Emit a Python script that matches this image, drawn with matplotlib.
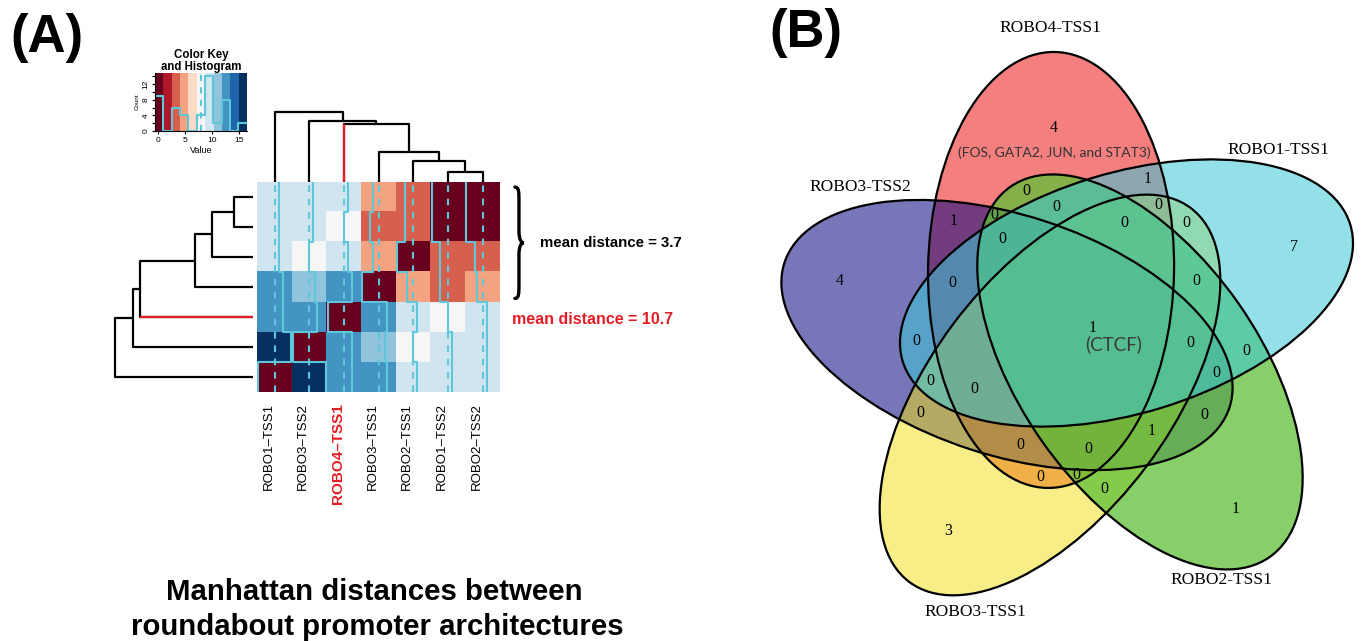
import numpy as np
import matplotlib
matplotlib.use("Agg")
import matplotlib.pyplot as plt
import matplotlib.transforms as mtransforms
from matplotlib.colors import ListedColormap, BoundaryNorm
from matplotlib.patches import Ellipse, PathPatch
from matplotlib.path import Path

W, H = 1362, 641

# ---------------- datos panel A ----------------
promotores = ["ROBO1-TSS1", "ROBO3-TSS2", "ROBO4-TSS1", "ROBO3-TSS1",
              "ROBO2-TSS1", "ROBO1-TSS2", "ROBO2-TSS2"]
distancias = np.array([
    [0, 16, 12, 12, 10, 10, 10],
    [16, 0, 12, 11, 8, 10, 10],
    [12, 12, 0, 12, 10, 8, 10],
    [12, 11, 12, 0, 5, 4, 5],
    [10, 8, 10, 5, 0, 4, 4],
    [10, 10, 8, 4, 4, 0, 0],
    [10, 10, 10, 5, 4, 0, 0],
])
# uniones del dendrograma: (hijo izq, hijo der, altura); los grupos nuevos se numeran desde 7
uniones = [(5, 6, 10.0), (4, 7, 20.7), (3, 8, 29.7), (2, 9, 57.3), (1, 10, 60.9), (0, 11, 70.0)]
cortes = np.linspace(-0.5, 16.5, 12)
grupo_cercano = ["ROBO3-TSS1", "ROBO2-TSS1", "ROBO1-TSS2", "ROBO2-TSS2"]
destacado = "ROBO4-TSS1"

# ---------------- datos panel B ----------------
conjuntos = ["ROBO4-TSS1", "ROBO1-TSS1", "ROBO2-TSS1", "ROBO3-TSS1", "ROBO3-TSS2"]
regiones = [("ROBO4-TSS1",), ("ROBO1-TSS1",), ("ROBO2-TSS1",), ("ROBO3-TSS1",), ("ROBO3-TSS2",),
            ("ROBO4-TSS1", "ROBO1-TSS1"), ("ROBO4-TSS1", "ROBO3-TSS2"),
            ("ROBO2-TSS1", "ROBO3-TSS1", "ROBO3-TSS2"),
            tuple(conjuntos)]
conteos = [4, 7, 1, 3, 4, 1, 1, 1, 1]
notas = {("ROBO4-TSS1",): "(FOS, GATA2, JUN, and STAT3)", tuple(conjuntos): "(CTCF)"}
colores = {"ROBO4-TSS1": "#e90000", "ROBO1-TSS1": "#3cc8d7", "ROBO2-TSS1": "#5fc037",
           "ROBO3-TSS1": "#f1df11", "ROBO3-TSS2": "#08067e"}
opacidad = {"ROBO4-TSS1": 0.5, "ROBO1-TSS1": 0.55, "ROBO2-TSS1": 0.75,
            "ROBO3-TSS1": 0.5, "ROBO3-TSS2": 0.55}
orden_relleno = ["ROBO4-TSS1", "ROBO3-TSS2", "ROBO3-TSS1", "ROBO2-TSS1", "ROBO1-TSS1"]
# geometria de las elipses: centro en polares desde el centro del diagrama, giro y semiejes
ang_centro = [107.4, 41.3, -25.5, -112.7, 175.7]
dist_centro = [73.4, 71.2, 74.2, 59.6, 66.2]
ang_eje = [89.0, 17.0, -55.0, -127.0, 162.0]
semi_mayor = [218.0, 234.0, 226.0, 234.0, 234.0]
semi_menor = [123.0, 120.0, 120.0, 120.0, 120.0]
# posicion de los nombres: (angulo, radio) desde el centro del diagrama
pos_nombres = [(94.2, 312.8), (42.8, 279.5), (301.8, 282.5), (250.2, 289.1), (144.3, 262.3)]

plt.rcParams['font.family'] = ['Liberation Sans', 'DejaVu Sans']
rojo = '#e41e26'
traza = '#5ec8da'

fig = plt.figure(figsize=(W / 100, H / 100), dpi=100)


def ejes_px(x0, y0, x1, y1):
    return fig.add_axes([x0 / W, 1 - y1 / H, (x1 - x0) / W, (y1 - y0) / H])


n = len(promotores)
cmap = ListedColormap(plt.get_cmap('RdBu')(np.linspace(0, 1, len(cortes) - 1)))
norm = BoundaryNorm(cortes, cmap.N)
i_dest = promotores.index(destacado)

# Mapa de calor
ax_h = ejes_px(257.3, 182, 500, 392)
ax_h.imshow(distancias, cmap=cmap, norm=norm, origin='lower', extent=(0, n, 0, n),
            aspect='auto', interpolation='nearest')
escala = (distancias - cortes[0]) / (cortes[-1] - cortes[0])
linea_v = (np.median(cortes) - cortes[0]) / (cortes[-1] - cortes[0])
for j in range(n):
    xs = np.repeat(j + escala[:, j], 2)
    ys = np.repeat(np.arange(n + 1), 2)[1:-1]
    ax_h.plot(xs, ys, color=traza, lw=1.5)
    ax_h.axvline(j + linea_v, color=traza, lw=1.5, ls=(0, (3.2, 3.2)))
ax_h.set_xlim(0, n)
ax_h.set_ylim(0, n)
for s in ax_h.spines.values():
    s.set_visible(False)
ax_h.set_yticks([])
ax_h.set_xticks(np.arange(n) + 0.5)
ax_h.set_xticklabels([p.replace('-', '–') for p in promotores], rotation=90, va='top', fontsize=9.5)
ax_h.tick_params(axis='x', length=0, pad=8)
desplaza = mtransforms.ScaledTranslation(-0.06, 0, fig.dpi_scale_trans)
for lab in ax_h.get_xticklabels():
    lab.set_transform(lab.get_transform() + desplaza)
lab = ax_h.get_xticklabels()[i_dest]
lab.set_color(rojo)
lab.set_fontweight('bold')
lab.set_fontsize(11)

# Medias de distancia
idx = [promotores.index(p) for p in grupo_cercano]
sub = distancias[np.ix_(idx, idx)]
media_grupo = sub[np.triu_indices(len(idx), 1)].mean()
media_dest = np.delete(distancias[i_dest], i_dest).mean()

fig.canvas.draw()
y0b, y1b = min(idx) + 0.12, max(idx) + 1 - 0.17
X0, Y0 = ax_h.transData.transform((n + 0.43, y0b))
_, Y1 = ax_h.transData.transform((n + 0.43, y1b))
hb, wb = Y1 - Y0, 9.0
mb = hb / 2
vb = [(0, 0), (wb * 0.45, 0), (wb * 0.45, 5), (wb * 0.45, 14),
      (wb * 0.45, mb - 12),
      (wb * 0.45, mb - 3), (wb * 0.7, mb), (wb, mb),
      (wb * 0.7, mb), (wb * 0.45, mb + 3), (wb * 0.45, mb + 12),
      (wb * 0.45, hb - 14),
      (wb * 0.45, hb - 5), (wb * 0.45, hb), (0, hb)]
cb = [Path.MOVETO, Path.CURVE4, Path.CURVE4, Path.CURVE4, Path.LINETO,
      Path.CURVE4, Path.CURVE4, Path.CURVE4, Path.CURVE4, Path.CURVE4, Path.CURVE4,
      Path.LINETO, Path.CURVE4, Path.CURVE4, Path.CURVE4]
llave = PathPatch(Path([(X0 + a, Y0 + b) for a, b in vb], cb), facecolor='none',
                  edgecolor='black', lw=2.4, transform=mtransforms.IdentityTransform(),
                  clip_on=False, capstyle='round')
ax_h.add_artist(llave)
ax_h.text(n + 1.15, (y0b + y1b) / 2, f"mean distance = {media_grupo:.1f}", fontsize=10.8,
          fontweight='bold', ha='left', va='center', clip_on=False)
ax_h.text(n + 0.35, i_dest + 0.4, f"mean distance = {media_dest:.1f}", fontsize=11.5,
          fontweight='bold', color=rojo, ha='left', va='center', clip_on=False)


# Dendrogramas
def ramas(uniones, n):
    pos = {i: i + 0.5 for i in range(n)}
    alt = {i: 0.0 for i in range(n)}
    out = []
    for k, (a, b, h) in enumerate(uniones):
        out.append(([pos[a], pos[a], pos[b], pos[b]], [alt[a], h, h, alt[b]], a, b))
        pos[n + k] = (pos[a] + pos[b]) / 2
        alt[n + k] = h
    return out


ax_c = ejes_px(257.3, 105, 500, 182)
ax_r = ejes_px(108, 182, 253.3, 392)
for p, hts, a, b in ramas(uniones, n):
    ax_c.plot(p, hts, color='black', lw=1.6, solid_capstyle='butt')
    ax_r.plot(hts, p, color='black', lw=1.6, solid_capstyle='butt')
    for hijo, sl in ((a, slice(0, 2)), (b, slice(2, 4))):
        if hijo == i_dest:
            ax_c.plot(p[sl], hts[sl], color=rojo, lw=1.6, solid_capstyle='butt')
            ax_r.plot(hts[sl], p[sl], color=rojo, lw=1.6, solid_capstyle='butt')
ax_c.set_xlim(0, n)
ax_c.set_ylim(0, 76.7)
ax_r.set_ylim(0, n)
ax_r.set_xlim(73.5, 0)
ax_c.axis('off')
ax_r.axis('off')

# Clave de color e histograma
ax_k = ejes_px(155, 73.3, 246.7, 131)
conteo_hist, _ = np.histogram(distancias.ravel(), bins=cortes)
ymax = conteo_hist.max() / 0.95
ax_k.imshow(np.arange(len(cortes) - 1)[None, :], cmap=cmap, aspect='auto',
            extent=(cortes[0], cortes[-1], 0, ymax), interpolation='nearest')
ax_k.plot(cortes, np.append(conteo_hist, conteo_hist[-1]), drawstyle='steps-post', color=traza, lw=1.5)
ax_k.axvline(np.median(cortes), color=traza, lw=1.5, ls=(0, (3, 3)))
ax_k.set_xlim(cortes[0], cortes[-1])
ax_k.set_ylim(0, ymax)
ax_k.set_xticks([0, 5, 10, 15])
ax_k.set_yticks(np.arange(0, 15, 2))
ax_k.set_yticklabels([str(v) if v % 4 == 0 else '' for v in range(0, 15, 2)], rotation=90, va='center')
ax_k.tick_params(labelsize=6, length=2.5, width=0.8, pad=1.5)
ax_k.spines['top'].set_visible(False)
ax_k.spines['right'].set_visible(False)
ax_k.set_xlabel('Value', fontsize=6.5, labelpad=1.5)
ax_k.set_ylabel('Count', fontsize=4.5, labelpad=2)
ax_k.set_title('Color Key\nand Histogram', fontsize=8.3, fontweight='bold', pad=-2.5, linespacing=1.0)

fig.text(374 / W, 1 - 592 / H, 'Manhattan distances between', fontsize=21.2, fontweight='bold',
         ha='center', va='center')
fig.text(377 / W, 1 - 627 / H, 'roundabout promoter architectures', fontsize=21.2, fontweight='bold',
         ha='center', va='center')
fig.text(47 / W, 1 - 38 / H, '(A)', fontsize=38, fontweight='bold', ha='center', va='center')
fig.text(806 / W, 1 - 33 / H, '(B)', fontsize=38, fontweight='bold', ha='center', va='center')

# ---------------- panel B: Venn de 5 conjuntos ----------------
ax_v = fig.add_axes([762 / W, 0, 600 / W, 1])
ax_v.set_xlim(-311, 289)
ax_v.set_ylim(-301, 340)
ax_v.axis('off')
elipses = []
for phi, dc, ang, bm, am in zip(ang_centro, dist_centro, ang_eje, semi_mayor, semi_menor):
    elipses.append((dc * np.cos(np.radians(phi)), dc * np.sin(np.radians(phi)), ang, bm, am))

for nombre in orden_relleno:
    ex, ey, ang, bm, am = elipses[conjuntos.index(nombre)]
    ax_v.add_patch(Ellipse((ex, ey), 2 * bm, 2 * am, angle=ang, facecolor=colores[nombre],
                           alpha=opacidad[nombre], edgecolor='none'))
for ex, ey, ang, bm, am in elipses:
    ax_v.add_patch(Ellipse((ex, ey), 2 * bm, 2 * am, angle=ang, facecolor='none',
                           edgecolor='black', lw=1.6))

# posicion de cada cuenta: punto mas alejado de los bordes dentro de su region
gx, gy = np.meshgrid(np.arange(-305, 289, 2.0), np.arange(-299, 338, 2.0))
codigo = np.zeros(gx.shape, int)
dist_borde = np.full(gx.shape, np.inf)
for i, (ex, ey, ang, bm, am) in enumerate(elipses):
    t = np.radians(ang)
    u = (gx - ex) * np.cos(t) + (gy - ey) * np.sin(t)
    v = -(gx - ex) * np.sin(t) + (gy - ey) * np.cos(t)
    F = (u / bm) ** 2 + (v / am) ** 2 - 1
    g = 2 * np.hypot(u / bm ** 2, v / am ** 2) + 1e-9
    rho = np.sqrt(F + 1) + 1e-9
    d_rad = np.abs(1 - rho) * np.hypot(u, v) / rho
    dist_borde = np.minimum(dist_borde, np.minimum(np.abs(F) / g, d_rad))
    codigo |= (F < 0).astype(int) << i

conteo_region = {frozenset(r): c for r, c in zip(regiones, conteos)}
nota_region = {frozenset(r): t for r, t in notas.items()}
for cod in range(1, 2 ** len(conjuntos)):
    miembros = frozenset(conjuntos[i] for i in range(len(conjuntos)) if cod >> i & 1)
    mask = codigo == cod
    if not mask.any():
        continue
    k = np.argmax(np.where(mask, dist_borde, -1))
    px, py = gx.flat[k], gy.flat[k]
    valor = conteo_region.get(miembros, 0)
    nota = nota_region.get(miembros)
    if nota is None:
        ax_v.text(px, py, str(valor), fontsize=11.5, family='Liberation Serif', ha='center', va='center')
    elif len(miembros) == 1:
        ax_v.text(px, py - 21, str(valor), fontsize=11.5, family='Liberation Serif', ha='center', va='center')
        ax_v.text(px, py - 46, nota, fontsize=10, family='Lato', color='#333333', ha='center', va='center')
    else:
        ax_v.text(px + 17, py - 1, str(valor), fontsize=11.5, family='Liberation Serif', ha='center', va='center')
        ax_v.text(px + 38, py - 17, nota, fontsize=13.5, family='Lato', color='#3a3a3a', ha='center', va='center')

for nombre, (ang, r) in zip(conjuntos, pos_nombres):
    ax_v.text(r * np.cos(np.radians(ang)), r * np.sin(np.radians(ang)), nombre, fontsize=12.5,
              family='Liberation Serif', ha='center', va='center')

fig.savefig('out.png', dpi=100)
